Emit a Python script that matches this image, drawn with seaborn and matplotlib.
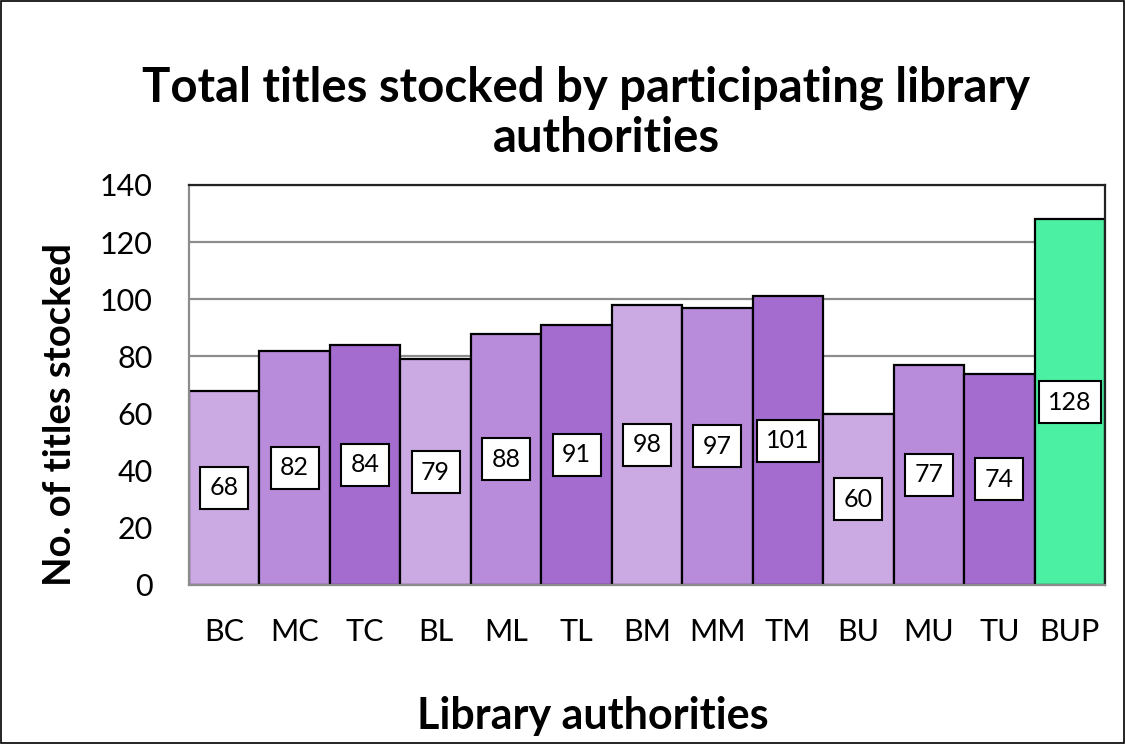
import matplotlib
matplotlib.use('Agg')
import matplotlib.pyplot as plt
import seaborn as sns
from matplotlib.patches import Rectangle

# Data
authorities = ['BC', 'MC', 'TC', 'BL', 'ML', 'TL', 'BM', 'MM', 'TM', 'BU', 'MU', 'TU', 'BUP']
titles_stocked = [68, 82, 84, 79, 88, 91, 98, 97, 101, 60, 77, 74, 128]
bar_colors = ['#CBA9E3', '#B98CDB', '#A56CD0'] * 4 + ['#4BF0A3']

sns.set_style('white')
plt.rcParams['font.family'] = ['Lato', 'DejaVu Sans']
plt.rcParams['text.color'] = 'black'
plt.rcParams['axes.labelcolor'] = 'black'
plt.rcParams['xtick.color'] = 'black'
plt.rcParams['ytick.color'] = 'black'

W, H = 1125, 744
fig = plt.figure(figsize=(W / 100, H / 100), dpi=100)
ax = fig.add_axes([189 / W, 1 - 585 / H, 916 / W, 400 / H])

# Gridlines behind bars
ax.set_axisbelow(True)
ax.yaxis.grid(True, color='#8C8C8C', linewidth=1.6)

sns.barplot(x=authorities, y=titles_stocked, hue=authorities, palette=bar_colors,
            width=1.0, edgecolor='black', linewidth=1.6, saturation=1,
            legend=False, ax=ax)

ax.set_xlim(-0.5, len(authorities) - 0.5)
ax.set_ylim(0, 140)
ax.set_yticks(range(0, 141, 20))
ax.tick_params(axis='y', labelsize=22, length=0, pad=26)

# category labels at bar centres, tick marks at bar boundaries
ax.set_xticks(range(len(authorities)))
ax.set_xticklabels(authorities)
ax.tick_params(axis='x', which='major', labelsize=22, length=0, pad=24)
ax.set_xticks([i - 0.5 for i in range(len(authorities) + 1)], minor=True)
ax.tick_params(axis='x', which='minor', length=12, width=1.6, color='#8C8C8C')

for side in ['left', 'bottom']:
    ax.spines[side].set_color('#8C8C8C')
    ax.spines[side].set_linewidth(1.6)
for side in ['top', 'right']:
    ax.spines[side].set_color('#222222')
    ax.spines[side].set_linewidth(1.6)

# value boxes in the middle of each bar
for i, v in enumerate(titles_stocked):
    ax.text(i, v / 2, str(v), ha='center', va='center', fontsize=18,
            bbox=dict(boxstyle='square,pad=0.38', facecolor='white',
                      edgecolor='black', linewidth=1.5))

ax.set_xlabel('')
ax.set_ylabel('')
fig.text(593 / W, 1 - 716 / H, 'Library authorities', ha='center', va='center',
         fontsize=31, fontweight='bold')
fig.text(60 / W, 1 - 414 / H, 'No. of titles stocked', ha='center', va='center',
         rotation=90, fontsize=27.5, fontweight='bold')

fig.text(586 / W, 1 - 88 / H, 'Total titles stocked by participating library',
         ha='center', va='center', fontsize=34, fontweight='bold')
fig.text(606 / W, 1 - 138 / H, 'authorities',
         ha='center', va='center', fontsize=34, fontweight='bold')

# outer border of the chart
fig.patches.append(Rectangle((0.001, 0.001), 0.998, 0.998, transform=fig.transFigure,
                             fill=False, edgecolor='black', linewidth=1.2))

fig.savefig('out.png', dpi=100)
